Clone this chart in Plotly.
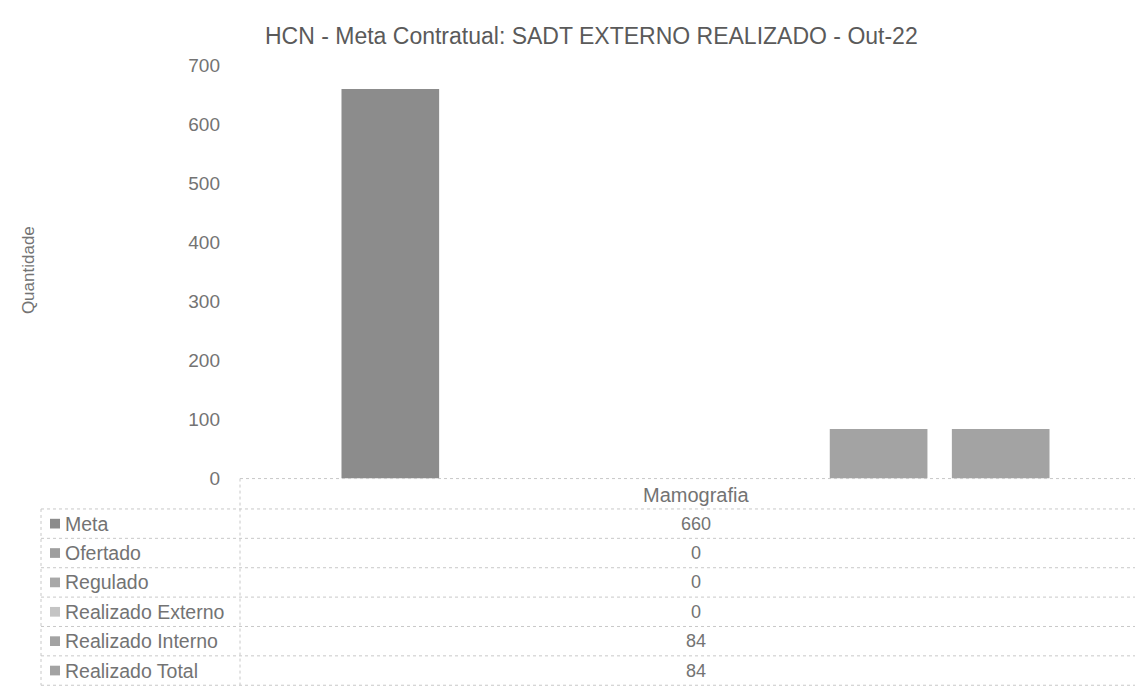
import plotly.graph_objects as go

# ---------------- data ----------------
title_text = "HCN - Meta Contratual: SADT EXTERNO REALIZADO - Out-22"
categories = ["Mamografia"]
series_names = ["Meta", "Ofertado", "Regulado", "Realizado Externo",
                "Realizado Interno", "Realizado Total"]
meta = [660]
ofertado = [0]
regulado = [0]
realizado_externo = [0]
realizado_interno = [84]
realizado_total = [84]
series_values = [meta, ofertado, regulado, realizado_externo,
                 realizado_interno, realizado_total]
series_colors = ["#8c8c8c", "#9e9e9e", "#a8a8a8", "#c4c4c4", "#a3a3a3", "#a3a3a3"]
y_ticks = [0, 100, 200, 300, 400, 500, 600, 700]
y_title = "Quantidade"

# ---------------- layout helpers ----------------
W, H = 1143, 691
FONT = "Liberation Sans, Arial, sans-serif"
TXT = "#737373"


def px(x):
    return x / W


def py(y):
    return 1 - y / H


plot_left, plot_right = 232, 1143
plot_top, plot_bottom = 49, 475

fig = go.Figure()
for name, vals, col in zip(series_names, series_values, series_colors):
    fig.add_trace(go.Bar(
        x=categories, y=vals, name=name,
        marker=dict(color=col, line=dict(width=0)),
        showlegend=False,
    ))

fig.update_layout(
    width=W, height=H,
    margin=dict(l=0, r=0, t=0, b=0),
    paper_bgcolor="white", plot_bgcolor="white",
    barmode="group", bargap=0.196, bargroupgap=0.2,
    font=dict(family=FONT, color=TXT),
    xaxis=dict(domain=[px(plot_left), px(plot_right)], showticklabels=False,
               showgrid=False, zeroline=False, showline=False, ticks=""),
    yaxis=dict(domain=[py(plot_bottom), py(plot_top)], range=[0, 700],
               tickvals=y_ticks, showgrid=False, zeroline=False,
               showline=False, ticks="", ticklabelstandoff=19,
               tickfont=dict(size=19, color=TXT, family=FONT)),
)

annotations = []
shapes = []

# title
annotations.append(dict(text=title_text, xref="paper", yref="paper",
                        x=px(583), y=py(19), xanchor="center", yanchor="middle",
                        showarrow=False, font=dict(size=23, color="#5a5a5a")))
# y-axis title
annotations.append(dict(text=y_title, xref="paper", yref="paper",
                        x=px(20), y=py(260), xanchor="center", yanchor="middle",
                        textangle=-90, showarrow=False,
                        font=dict(size=17, color=TXT)))

# ---------------- data table ----------------
table_left = 33
header_y = 492
row_h = 30.3
first_row_y = 521.5
line_style = dict(color="#c8c8c8", width=1, dash="dot")

# header text: category names under the category axis
for cat in categories:
    annotations.append(dict(text=cat, xref="x", yref="paper", x=cat,
                            y=py(header_y), xanchor="center", yanchor="middle",
                            showarrow=False, font=dict(size=20, color=TXT)))

# top line (axis line) and vertical divider
shapes.append(dict(type="line", xref="paper", yref="paper",
                   x0=px(plot_left), x1=1, y0=py(plot_bottom), y1=py(plot_bottom),
                   line=line_style))
bottom_y = first_row_y + row_h * (len(series_names) - 0.5)
shapes.append(dict(type="line", xref="paper", yref="paper",
                   x0=px(plot_left), x1=px(plot_left), y0=py(plot_bottom), y1=py(bottom_y),
                   line=line_style))
shapes.append(dict(type="line", xref="paper", yref="paper",
                   x0=px(table_left), x1=px(table_left),
                   y0=py(first_row_y - row_h / 2), y1=py(bottom_y),
                   line=line_style))

for i, (name, vals, col) in enumerate(zip(series_names, series_values, series_colors)):
    yc = first_row_y + i * row_h
    # row separator above
    shapes.append(dict(type="line", xref="paper", yref="paper",
                       x0=px(table_left), x1=1, y0=py(yc - row_h / 2), y1=py(yc - row_h / 2),
                       line=line_style))
    # legend key
    shapes.append(dict(type="rect", xref="paper", yref="paper",
                       x0=px(42), x1=px(52), y0=py(yc + 5), y1=py(yc - 5),
                       fillcolor=col, line=dict(width=0)))
    annotations.append(dict(text=name, xref="paper", yref="paper",
                            x=px(55), y=py(yc), xanchor="left", yanchor="middle",
                            showarrow=False, font=dict(size=19.5, color=TXT)))
    for cat, v in zip(categories, vals):
        annotations.append(dict(text=str(v), xref="x", yref="paper", x=cat,
                                y=py(yc), xanchor="center", yanchor="middle",
                                showarrow=False, font=dict(size=18, color=TXT)))
shapes.append(dict(type="line", xref="paper", yref="paper",
                   x0=px(table_left), x1=1, y0=py(bottom_y), y1=py(bottom_y),
                   line=line_style))

fig.update_layout(annotations=annotations, shapes=shapes)
fig.write_html("out.html")
